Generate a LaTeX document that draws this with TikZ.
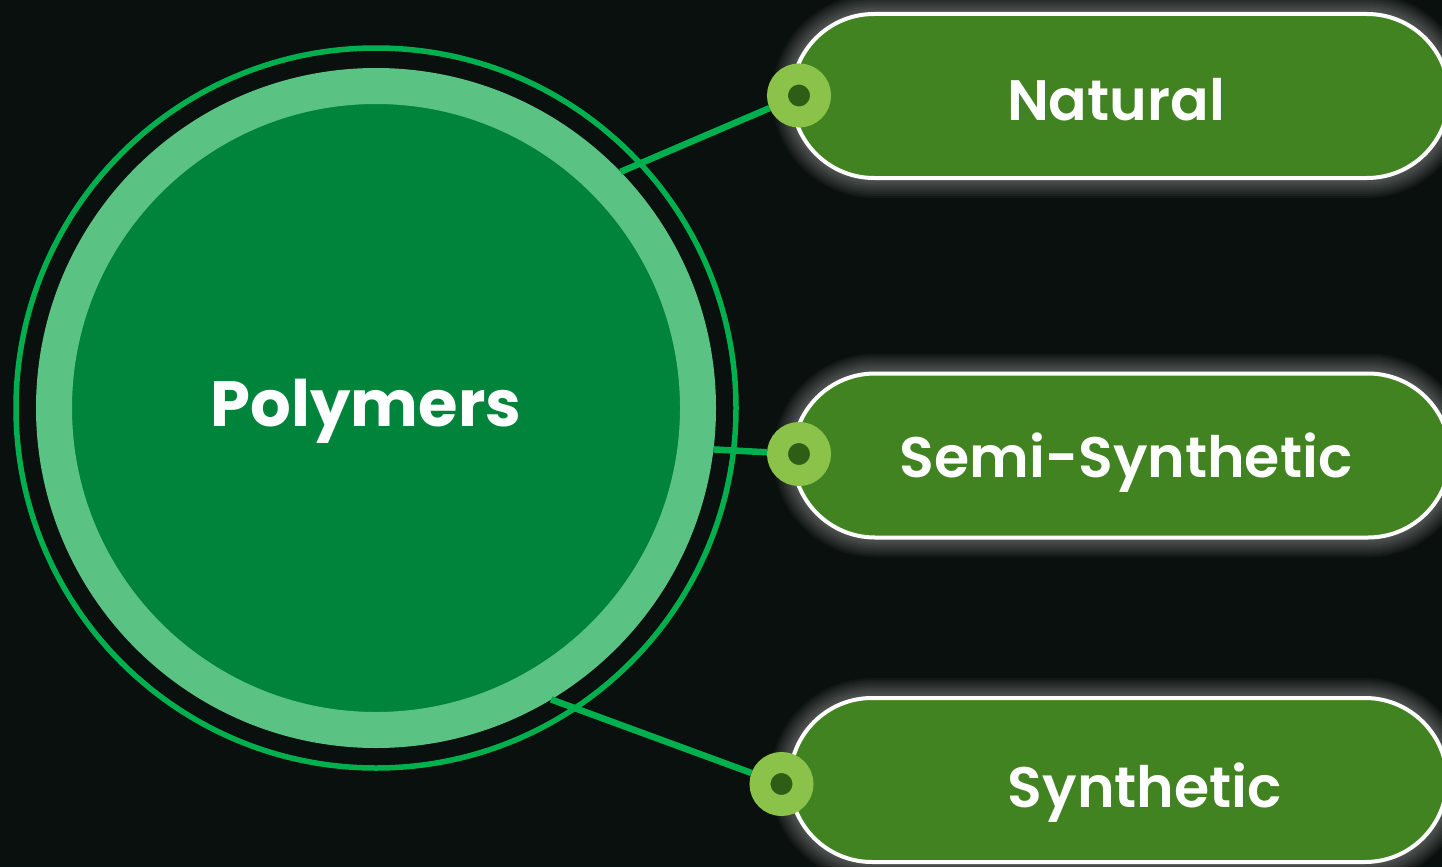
\documentclass[tikz,border=0pt]{standalone}
\usepackage{fontspec}
\setmainfont{Poppins}
\newfontfamily\pillfont{Poppins SemiBold}
\newfontfamily\hubfont{Poppins Bold}
\usetikzlibrary{shapes.misc}

\definecolor{bgdark}{HTML}{0A100E}
\definecolor{ringline}{HTML}{00B04F}
\definecolor{ringlight}{HTML}{5AC383}
\definecolor{hubgreen}{HTML}{00843C}
\definecolor{pillgreen}{HTML}{418221}
\definecolor{pinlight}{HTML}{8BC24A}
\definecolor{pindark}{HTML}{2E5E15}

\tikzset{
  pill/.style={rounded rectangle, minimum width=657, minimum height=164,
    inner sep=0pt, fill=pillgreen, draw=white, line width=4pt},
  pillglow/.style={rounded rectangle, minimum width=657, minimum height=164,
    inner sep=0pt, draw=white, draw opacity=0.035},
  pilltext/.style={anchor=base, text=white, font=\pillfont\fontsize{57}{65}\selectfont},
  link/.style={ringline, line width=6.5pt},
  pin/.style={circle, minimum size=43, inner sep=0pt, fill=pindark,
    draw=pinlight, line width=21pt},
}

\begin{document}
\begin{tikzpicture}[x=1pt,y=-1pt]
  \useasboundingbox (0,0) rectangle (1442,867);
  \fill[bgdark] (0,0) rectangle (1442,867);

  % soft glow round the three pills
  \foreach \px/\py in {1120.5/96, 1121.5/455.5, 1118.5/780}
    \foreach \w in {40,36,...,4}
      \node[pillglow, line width=\w pt] at (\px,\py) {};

  \node[pill] (nat) at (1120.5,96) {};
  \node[pill] (semi) at (1121.5,455.5) {};
  \node[pill] (syn) at (1118.5,780) {};
  \node[pilltext] (natText) at (1116,120) {Natural};
  \node[pilltext] (semiText) at (1126,477) {Semi-Synthetic};
  \node[pilltext] (synText) at (1145,807) {Synthetic};

  \coordinate (hub) at (376,408);

  % outer ring and the big disc
  \draw[link, line width=5.5pt] (hub) circle[radius=360];
  \node[circle, minimum size=644, inner sep=0pt, fill=hubgreen,
    draw=ringlight, line width=36pt] (poly) at (hub) {};
  \node[anchor=base, text=white, font=\hubfont\fontsize{64}{72}\selectfont]
    (polyText) at (366,426) {Polymers};

  \node[pin] (natDot) at (799,95.5) {};
  \node[pin] (semiDot) at (799,454) {};
  \node[pin] (synDot) at (781.5,784) {};

  \draw[link] (poly.44.5) -- (natDot);
  \draw[link] (poly.-7.6) -- (semiDot);
  \draw[link] (poly.-59.5) -- (synDot);
\end{tikzpicture}
\end{document}
